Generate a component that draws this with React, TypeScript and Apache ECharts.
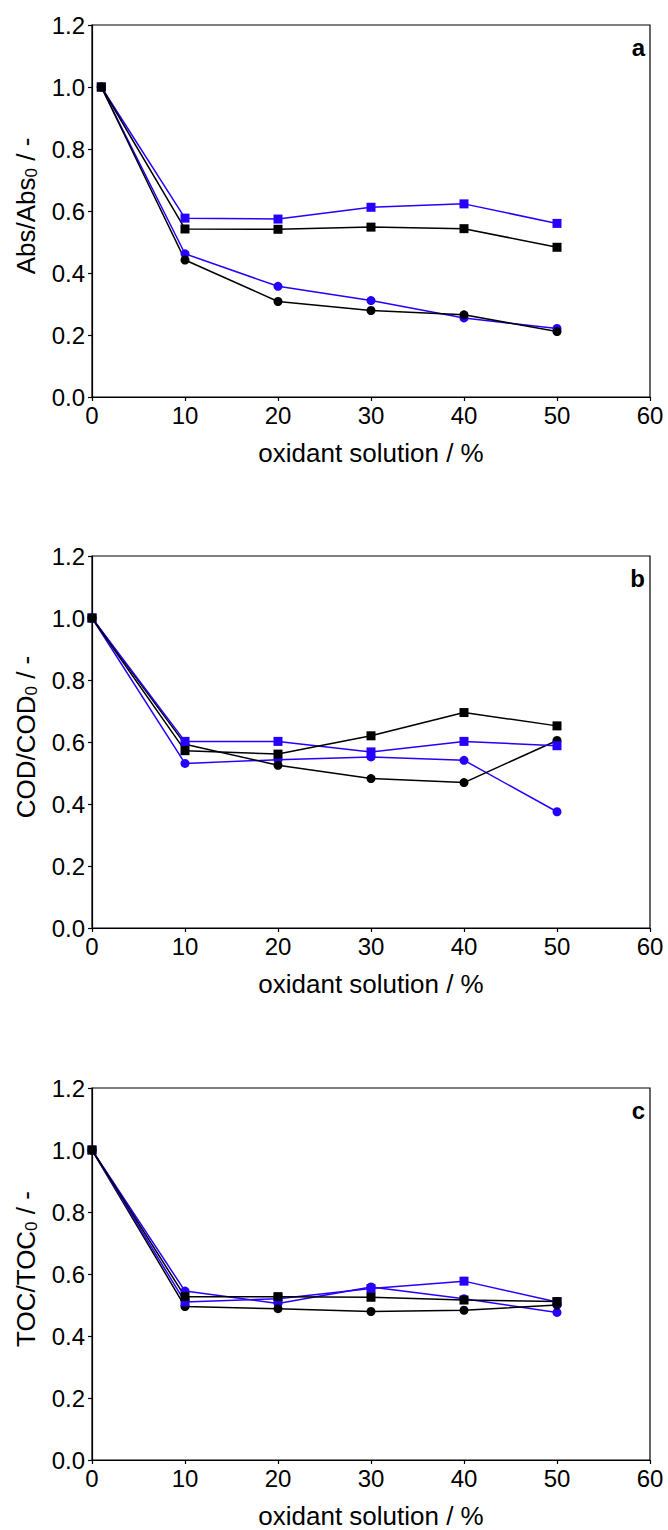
import React, { useEffect, useRef } from "react";
import * as echarts from "echarts";

const xA = [1, 10, 20, 30, 40, 50];
const xBC = [0, 10, 20, 30, 40, 50];

const absBlueSq = [1.0, 0.577, 0.574, 0.612, 0.623, 0.56];
const absBlackSq = [1.0, 0.542, 0.541, 0.548, 0.543, 0.483];
const absBlueCi = [1.0, 0.462, 0.357, 0.311, 0.255, 0.221];
const absBlackCi = [1.0, 0.442, 0.308, 0.279, 0.265, 0.211];

const codBlueSq = [1.0, 0.602, 0.602, 0.568, 0.602, 0.588];
const codBlackSq = [1.0, 0.572, 0.561, 0.62, 0.695, 0.652];
const codBlueCi = [1.0, 0.531, 0.543, 0.552, 0.541, 0.375];
const codBlackCi = [1.0, 0.593, 0.525, 0.482, 0.469, 0.605];

const tocBlueSq = [1.0, 0.51, 0.52, 0.553, 0.577, 0.51];
const tocBlackSq = [1.0, 0.527, 0.527, 0.525, 0.516, 0.511];
const tocBlueCi = [1.0, 0.545, 0.505, 0.558, 0.52, 0.476];
const tocBlackCi = [1.0, 0.495, 0.488, 0.479, 0.483, 0.5];

const panelLabels = ["a", "b", "c"];
const yTitles = ["Abs/Abs{sub|0} / -", "COD/COD{sub|0} / -", "TOC/TOC{sub|0} / -"];
const xTitle = "oxidant solution / %";

const BLUE = "#2600ff";
const BLACK = "#000000";
const FONT = "Arial, 'Liberation Sans', sans-serif";

const tops = [25, 556, 1088];
const gridH = 372;

export default function App() {
  const ref = useRef<HTMLDivElement>(null);
  useEffect(() => {
    if (!ref.current) return;
    const chart = echarts.init(ref.current, undefined, { renderer: "svg" });
    const panels = [
      { x: xA, bs: absBlueSq, ks: absBlackSq, bc: absBlueCi, kc: absBlackCi },
      { x: xBC, bs: codBlueSq, ks: codBlackSq, bc: codBlueCi, kc: codBlackCi },
      { x: xBC, bs: tocBlueSq, ks: tocBlackSq, bc: tocBlueCi, kc: tocBlackCi },
    ];
    const grids = tops.map((t) => ({
      left: 92,
      right: 18,
      top: t,
      height: gridH,
      show: true,
      borderColor: "#000",
      borderWidth: 1.2,
      backgroundColor: "transparent",
    }));
    const xAxes = tops.map((_, i) => ({
      type: "value",
      gridIndex: i,
      min: 0,
      max: 60,
      interval: 10,
      name: xTitle,
      nameLocation: "middle",
      nameGap: 43,
      nameTextStyle: { fontFamily: FONT, fontSize: 26, color: "#000" },
      axisLine: { show: true, onZero: false, lineStyle: { color: "#000", width: 1.2 } },
      axisTick: { show: true, inside: false, length: 4, lineStyle: { color: "#000", width: 1.2 } },
      axisLabel: { fontFamily: FONT, fontSize: 24, color: "#000", margin: 6 },
      splitLine: { show: false },
    }));
    const yAxes = tops.map((_, i) => ({
      type: "value",
      gridIndex: i,
      min: 0,
      max: 1.2,
      interval: 0.2,
      name: yTitles[i],
      nameLocation: "middle",
      nameGap: 52,
      nameRotate: 90,
      nameTextStyle: {
        fontFamily: FONT,
        fontSize: 26,
        color: "#000",
        lineHeight: 28,
        padding: [0, 0, 0, 10],
        rich: {
          sub: { fontFamily: FONT, fontSize: 17, color: "#000", lineHeight: 28, verticalAlign: "bottom", padding: [10, 0, 0, 0] },
        },
      },
      axisLine: { show: true, lineStyle: { color: "#000", width: 1.2 } },
      axisTick: { show: true, inside: false, length: 4, lineStyle: { color: "#000", width: 1.2 } },
      axisLabel: {
        fontFamily: FONT,
        fontSize: 24,
        color: "#000",
        margin: 7,
        formatter: (v: number) => v.toFixed(1),
      },
      splitLine: { show: false },
    }));
    const series: any[] = [];
    panels.forEach((p, i) => {
      const mk = (vals: number[], color: string, symbol: string) => ({
        type: "line",
        xAxisIndex: i,
        yAxisIndex: i,
        data: p.x.map((xv, k) => [xv, vals[k]]),
        symbol,
        symbolSize: 9,
        showSymbol: true,
        lineStyle: { color, width: 1.5 },
        itemStyle: { color, borderWidth: 0 },
        z: 2,
      });
      series.push(mk(p.bc, BLUE, "circle"));
      series.push(mk(p.kc, BLACK, "circle"));
      series.push(mk(p.bs, BLUE, "rect"));
      series.push(mk(p.ks, BLACK, "rect"));
    });
    const graphic = tops.map((t, i) => ({
      type: "text",
      x: 645,
      y: t + 22,
      style: {
        text: panelLabels[i],
        fontFamily: FONT,
        fontSize: 24,
        fontWeight: "bold",
        fill: "#000",
        align: "right",
        verticalAlign: "middle",
      },
    }));
    chart.setOption({
      animation: false,
      backgroundColor: "#fff",
      grid: grids,
      xAxis: xAxes,
      yAxis: yAxes,
      series,
      graphic,
    });
    return () => chart.dispose();
  }, []);
  return (
    <div
      ref={ref}
      style={{ position: "absolute", left: 0, top: 0, width: 668, height: 1530 }}
    />
  );
}
